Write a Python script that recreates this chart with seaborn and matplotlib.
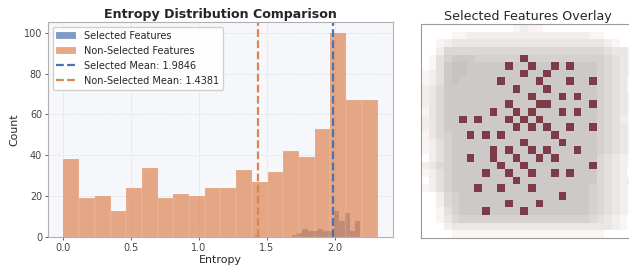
import numpy as np
import pandas as pd
import matplotlib
matplotlib.use("Agg")
import matplotlib.pyplot as plt
from matplotlib.colors import ListedColormap
import seaborn as sns

# --- histogram data (20 bins per group) ---
nonsel_range = (0.0, 2.316)
nonsel_counts = [38, 19, 20, 13, 24, 34, 19, 21, 20, 24,
                 24, 33, 27, 32, 42, 39, 53, 100, 67, 67]
sel_range = (1.41, 2.19)
sel_counts = [1, 0, 0, 0, 0, 0, 0, 1, 2, 4,
              3, 3, 4, 3, 3, 13, 8, 12, 3, 8]
sel_mean = 1.9846
nonsel_mean = 1.4381

# --- mean image behind the overlay, grey level 0 (blank) .. 8 ---
mean_rows = [
    "000000000000" "1211" "000000000000",
    "0000" "11" "2222222222222222" "11" "0000",
    "00" "12" "33333333333333333333" "21" "00",
    "00" "25" "55555555555555555555" "4332",
    "01" "46" "77766666666666666666" "5432",
    "0147" "8877777777" "777777777" "65432",
    "1247" "8877777777" "777777777" "65432",
    "1247" "8777777777" "777777777" "65431",
    "2357" "7777777777" "777777777" "65431",
    "2357" "7777777777" "777777777" "65432",
    "2357" "7777777777" "777777777" "65432",
    "1357" "7777777777" "777777777" "65432",
    "2357" "7777777777" "777777777" "65421",
    "2357" "7777777777" "777777777" "65432",
    "1356" "7777777777" "777777777" "65432",
    "1246" "7777777777" "777777777" "65432",
    "1246" "7777777777" "777777777" "65432",
    "0246" "7777777777" "777777777" "54321",
    "2356" "7777777777" "777777777" "54321",
    "1246" "7777777777" "777777777" "54320",
    "0246" "7777777777" "777777777" "54322",
    "1246" "7777777777" "777777776" "54321",
    "0025" "6777777777" "777777776" "54321",
    "0025" "6777777777" "777777776" "54321",
    "0014" "6777777777" "777777776" "54321",
    "0013" "5666666666" "666666665" "43210",
    "0002" "3333333333" "333333333" "33210",
    "0000" "1111111111" "111111111" "10000",
]

# selected feature pixels (row, col)
sel_pixels = [
    (4, 13),
    (5, 11), (5, 14), (5, 17), (5, 19),
    (6, 13), (6, 16),
    (7, 10), (7, 15), (7, 19), (7, 22),
    (8, 12), (8, 16),
    (9, 14), (9, 18), (9, 20),
    (10, 11), (10, 15), (10, 16), (10, 22),
    (11, 9), (11, 12), (11, 14), (11, 18), (11, 20),
    (12, 5), (12, 7), (12, 11), (12, 13), (12, 15),
    (13, 12), (13, 14), (13, 16), (13, 19), (13, 22),
    (14, 6), (14, 8), (14, 10), (14, 17),
    (15, 13), (15, 18),
    (16, 9), (16, 11), (16, 14), (16, 16), (16, 20),
    (17, 6), (17, 9), (17, 12), (17, 15), (17, 17),
    (18, 10), (18, 13), (18, 22),
    (19, 8), (19, 11), (19, 14), (19, 17), (19, 19),
    (20, 12),
    (21, 7), (21, 10), (21, 14),
    (22, 18),
    (23, 11), (23, 15),
    (24, 8), (24, 13),
]

sns.set_theme(style="whitegrid", rc={
    "axes.facecolor": "#f6f7fa",
    "axes.edgecolor": "#b0b0b0",
    "axes.linewidth": 0.8,
    "grid.color": "#e2e4e9",
    "grid.linestyle": "--",
    "grid.linewidth": 0.6,
    "xtick.bottom": True,
    "ytick.left": True,
    "xtick.major.size": 2.5,
    "ytick.major.size": 2.5,
    "xtick.major.width": 0.6,
    "ytick.major.width": 0.6,
    "xtick.color": "#444444",
    "ytick.color": "#444444",
})
plt.rcParams["font.family"] = ["DejaVu Sans"]

blue = "#4c72b0"
orange = "#dd8452"

fig = plt.figure(figsize=(6.29, 2.65), dpi=100)
ax = fig.add_axes([0.0758, 0.1045, 0.5494, 0.8113])
ax2 = fig.add_axes([0.6688, 0.1008, 0.3402, 0.8075])

# histograms (bin centres weighted by the counts)
sel_edges = np.linspace(sel_range[0], sel_range[1], len(sel_counts) + 1)
non_edges = np.linspace(nonsel_range[0], nonsel_range[1], len(nonsel_counts) + 1)
sel_df = pd.DataFrame({"entropy": (sel_edges[:-1] + sel_edges[1:]) / 2,
                       "count": sel_counts})
non_df = pd.DataFrame({"entropy": (non_edges[:-1] + non_edges[1:]) / 2,
                       "count": nonsel_counts})

edge = (1, 1, 1, 0.3)
sns.histplot(data=sel_df, x="entropy", weights="count", bins=list(sel_edges),
             color=blue, alpha=0.7, edgecolor=edge, linewidth=0.25,
             label="Selected Features", ax=ax)
sns.histplot(data=non_df, x="entropy", weights="count", bins=list(non_edges),
             color=orange, alpha=0.7, edgecolor=edge, linewidth=0.3,
             label="Non-Selected Features", ax=ax)
ax.axvline(sel_mean, color=blue, ls=(0, (3.5, 1.5)), lw=1.6,
           label=f"Selected Mean: {sel_mean:.4f}")
ax.axvline(nonsel_mean, color=orange, ls=(0, (3.5, 1.5)), lw=1.6,
           label=f"Non-Selected Mean: {nonsel_mean:.4f}")

h, l = ax.get_legend_handles_labels()
order = [l.index(s) for s in ["Selected Features", "Non-Selected Features",
                              f"Selected Mean: {sel_mean:.4f}",
                              f"Non-Selected Mean: {nonsel_mean:.4f}"]]
ax.legend([h[i] for i in order], [l[i] for i in order], loc="upper left",
          fontsize=7.0, frameon=True, facecolor="white", edgecolor="#cccccc",
          framealpha=0.9)

ax.set_xticks([0.0, 0.5, 1.0, 1.5, 2.0])
ax.set_xlabel("Entropy", fontsize=7.9, labelpad=1.5)
ax.set_ylabel("Count", fontsize=7.9, labelpad=3)
ax.tick_params(labelsize=6.9, pad=1.5)
ax.set_title("Entropy Distribution Comparison", fontsize=9.1,
             fontweight="bold", pad=3)

# overlay image
grey = np.array([[int(c) for c in r.ljust(28, "0")[:28]] for r in mean_rows])
mask = np.zeros((28, 28))
rr, cc = zip(*sel_pixels)
mask[list(rr), list(cc)] = 1

grey_cmap = ListedColormap(["#ffffff", "#faf5f3", "#f2eeec", "#ebe7e6", "#e4e0df",
                            "#dcd8d7", "#d5d1d0", "#cdc9c8", "#c8c3c2"])
ax2.imshow(grey, cmap=grey_cmap, vmin=-0.5, vmax=8.5, interpolation="nearest")
ax2.imshow(np.ma.masked_equal(mask, 0), cmap=ListedColormap(["#7d3c48"]),
           interpolation="nearest")
ax2.set_xticks([])
ax2.set_yticks([])
ax2.grid(False)
for s in ax2.spines.values():
    s.set_color("#999999")
    s.set_linewidth(0.8)
ax2.set_title("Selected Features Overlay", fontsize=9.1, pad=3)

fig.savefig("out.png", dpi=100)
